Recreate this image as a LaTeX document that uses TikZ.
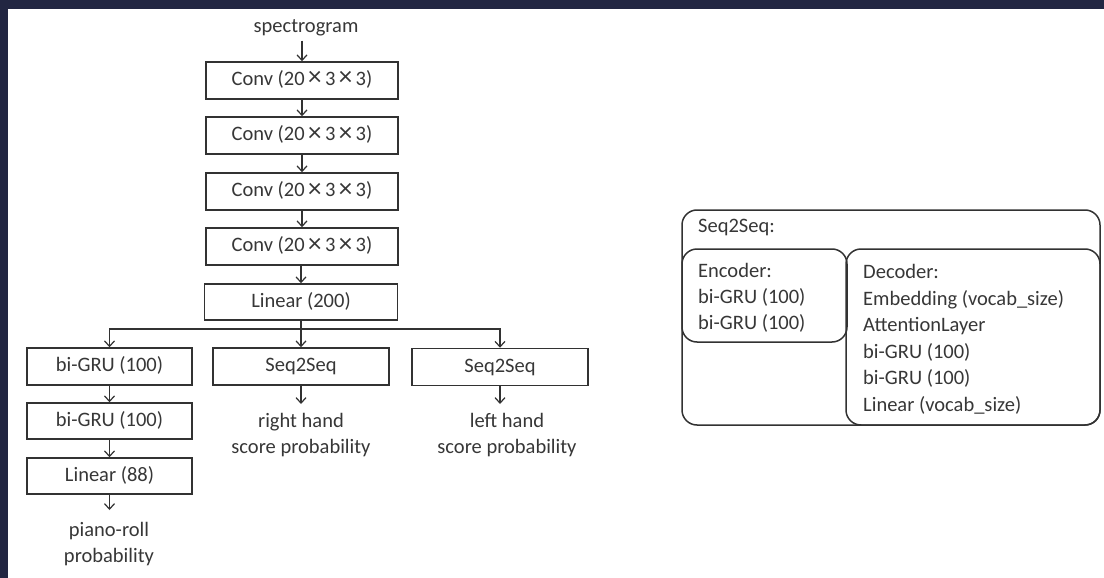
\documentclass[tikz,border=0pt]{standalone}
\usepackage{fontspec}
\setmainfont{Carlito}
\usetikzlibrary{arrows.meta}
\definecolor{navy}{RGB}{34,38,66}
\definecolor{edge}{RGB}{50,50,50}
\definecolor{txt}{RGB}{55,55,55}
\newcommand{\tms}{\,{\fontsize{27}{26}\selectfont\raisebox{-0.5pt}{×}}\,}
\begin{document}
\begin{tikzpicture}[x=1pt,y=-1pt,
  font=\fontsize{20.5}{26}\selectfont, text=txt,
  box/.style={draw=edge, line width=1.5pt, minimum height=37pt, inner sep=0pt,
              text height=14pt, text depth=4pt},
  arr/.style={draw=edge, line width=1.2pt, -{Straight Barb[length=5.5pt,width=10pt,line width=1.2pt]}},
  outtxt/.style={inner sep=0pt, align=center, anchor=north},
  ln/.style={inner sep=0pt, anchor=base west},
  rbox/.style={draw=edge, line width=1.5pt, rounded corners=15pt}
]
\useasboundingbox (0,0) rectangle (1104,578);
\fill[white] (0,0) rectangle (1104,578);
\fill[navy] (0,0) rectangle (1104,9);
\fill[navy] (0,0) rectangle (8,578);

% main column
\node[inner sep=0pt, anchor=base] (spec) at (306,33) {spectrogram};
\node[box, minimum width=192pt] (c1) at (302,80.5) {Conv (20\tms3\tms3)};
\node[box, minimum width=192pt] (c2) at (302,135.5) {Conv (20\tms3\tms3)};
\node[box, minimum width=192pt] (c3) at (302,191.5) {Conv (20\tms3\tms3)};
\node[box, minimum width=192pt] (c4) at (302,246.5) {Conv (20\tms3\tms3)};
\node[box, minimum width=193pt, minimum height=36pt] (lin) at (301,302) {Linear (200)};

\draw[arr] (spec.south -| c1.north) ++(0,4) -- (c1.north);
\draw[arr] (c1) -- (c2);
\draw[arr] (c2) -- (c3);
\draw[arr] (c3) -- (c4);
\draw[arr] (c4.south -| lin.north) -- (lin.north);

% branch row
\node[box, minimum width=165pt] (g1) at (109.5,366.5) {bi-GRU (100)};
\node[box, minimum width=176pt] (s1) at (301,366.5) {Seq2Seq};
\node[box, minimum width=176pt] (s2) at (500,367) {Seq2Seq};
\coordinate (br) at (301,329);

\draw[arr] (lin.south) -- (lin.south |- s1.north);
\draw[arr] (br) -| (g1.north);
\draw[arr] (br) -| (s2.north);

% left column
\node[box, minimum width=165pt, minimum height=36pt] (g2) at (109.5,421) {bi-GRU (100)};
\node[box, minimum width=165pt, minimum height=36pt] (l88) at (109.5,476) {Linear (88)};
\node[outtxt] (pr) at (109,522) {piano-roll\\probability};
\draw[arr] (g1) -- (g2);
\draw[arr] (g2) -- (l88);
\draw[arr, shorten >=12pt] (l88.south) -- (l88.south |- pr.north);

\node[outtxt] (rh) at (301,413) {right hand\\score probability};
\node[outtxt] (lh) at (507,413) {left hand\\score probability};
\draw[arr, shorten >=9pt] (s1.south) -- (s1.south |- rh.north);
\draw[arr, shorten >=9pt] (s2.south) -- (s2.south |- lh.north);

% Seq2Seq detail panel
\draw[rbox] (682,210) rectangle (1100,425);
\draw[rbox] (682,249) rectangle (847,342);
\draw[rbox] (846,249) rectangle (1100,425);
\node[ln] (sq) at (698,232) {Seq2Seq:};
\node[ln] (e0) at (698,277) {Encoder:};
\node[ln] (e1) at (698,303) {bi-GRU (100)};
\node[ln] (e2) at (698,329) {bi-GRU (100)};
\node[ln] (d0) at (863,278.5) {Decoder:};
\node[ln] (d1) at (863,305) {Embedding (vocab\_size)};
\node[ln] (d2) at (863,331.5) {AttentionLayer};
\node[ln] (d3) at (863,358) {bi-GRU (100)};
\node[ln] (d4) at (863,384.5) {bi-GRU (100)};
\node[ln] (d5) at (863,411) {Linear (vocab\_size)};
\end{tikzpicture}
\end{document}
